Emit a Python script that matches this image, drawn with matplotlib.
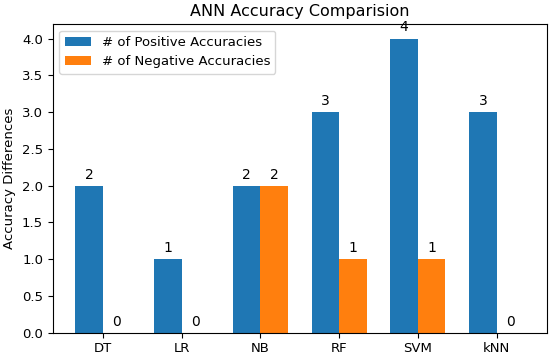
import matplotlib
matplotlib.use("Agg")
import matplotlib.pyplot as plt
import numpy as np

classifiers = ["DT", "LR", "NB", "RF", "SVM", "kNN"]
positive = [2, 1, 2, 3, 4, 3]
negative = [0, 0, 2, 1, 1, 0]

fig, ax = plt.subplots(figsize=(5.5, 3.57), dpi=100)
x = np.arange(len(classifiers))
width = 0.35

b1 = ax.bar(x - width / 2, positive, width, label="# of Positive Accuracies", color="#1f77b4")
b2 = ax.bar(x + width / 2, negative, width, label="# of Negative Accuracies", color="#ff7f0e")

for bars in (b1, b2):
    for rect in bars:
        h = rect.get_height()
        ax.annotate(f"{int(h)}", xy=(rect.get_x() + rect.get_width() / 2, h),
                    xytext=(0, 3), textcoords="offset points",
                    ha="center", va="bottom", fontsize=10)

ax.set_title("ANN Accuracy Comparision", fontsize=11.5, pad=6)
ax.set_ylabel("Accuracy Differences", fontsize=9.5)
ax.set_xticks(x)
ax.set_xticklabels(classifiers, fontsize=9.5)
ax.set_yticks(np.arange(0, 4.01, 0.5))
ax.tick_params(axis="y", labelsize=9.5)
ax.set_ylim(0, 4.2)
ax.legend(loc="upper left", fontsize=9.5)

fig.subplots_adjust(left=0.096, right=0.994, top=0.933, bottom=0.068)
fig.savefig("out.png", dpi=100)
